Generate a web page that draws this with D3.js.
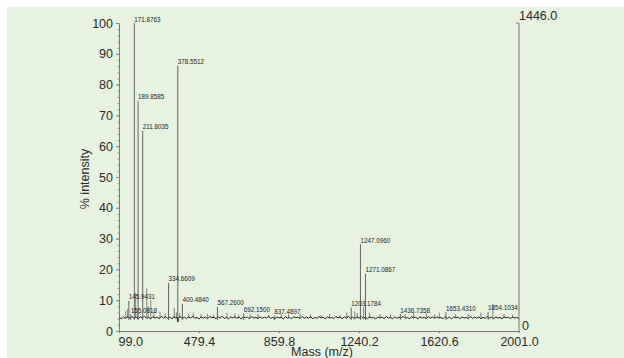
<!DOCTYPE html>
<html>
<head>
<meta charset="utf-8">
<script src="https://cdn.jsdelivr.net/npm/d3@7"></script>
<style>
	body { margin: 0; background: #fff; }
	svg { display: block; font-family: "Liberation Sans", Arial, sans-serif; }
	.tick-label { font-size: 12.5px; fill: #2a2a2a; }
	.peak-label { font-size: 6.3px; fill: #222; }
</style>
</head>
<body>
<div id="spectrum"></div>
<script>
// labelled peaks: m/z and % intensity
const peakMz = [145.9431, 155.0818, 171.8763, 189.8585, 211.8035, 334.6609, 378.5512, 400.4840,
	567.2600, 692.1500, 837.4897, 1203.1784, 1247.0960, 1271.0867, 1436.7358, 1653.4310, 1854.1034];
const peakInt = [9.8, 5.4, 100, 74.8, 65.0, 15.6, 86.2, 8.8,
	7.8, 5.8, 4.9, 7.6, 28.2, 18.6, 5.5, 6.1, 6.3];

// unlabelled small peaks: [m/z, % intensity]
const minorPeaks = [[131, 6.5], [140, 7.2], [178, 12.4], [186, 7.0], [231, 14.0], [238, 8.0], [250, 10.0],
	[265, 6.2], [294, 6.3], [318, 5.6], [362, 7.5], [372, 6.0], [388, 5.8], [430, 5.6], [452, 6.0],
	[488, 5.4], [520, 5.6], [548, 5.2], [612, 5.9], [650, 5.8], [668, 5.3], [722, 5.5], [760, 5.6],
	[812, 5.2], [870, 5.4], [905, 5.5], [960, 5.6], [1010, 5.4], [1060, 5.2], [1100, 5.6], [1150, 5.3],
	[1182, 6.0], [1220, 6.4], [1232, 5.8], [1262, 7.8], [1290, 6.0], [1340, 5.5], [1390, 5.4],
	[1460, 5.5], [1500, 5.8], [1560, 5.7], [1600, 5.4], [1622, 6.0], [1700, 5.5], [1760, 5.6],
	[1820, 6.0], [1877, 8.8], [1930, 5.5], [1970, 5.3]];

// noisy baseline: [m/z, % intensity]
const baseline = [[100, 4.4], [110, 4.0], [120, 4.5], [130, 4.1], [140, 4.6], [150, 4.2], [160, 4.7],
	[170, 4.1], [180, 4.5], [190, 4.0], [200, 4.6], [210, 4.3], [220, 4.8], [230, 4.1], [240, 4.4],
	[250, 3.9], [260, 4.7], [270, 4.2], [280, 4.5], [290, 4.0], [300, 4.8], [310, 4.2], [320, 4.6],
	[330, 4.1], [340, 4.5], [350, 4.0], [360, 4.6], [370, 4.2], [376, 4.4], [379, 2.9], [382, 4.3],
	[390, 4.7], [400, 4.1], [410, 4.5], [420, 4.0], [430, 4.6], [440, 4.2], [450, 4.8], [460, 4.1],
	[470, 4.4], [480, 3.9], [490, 4.6], [500, 4.2], [510, 4.5], [520, 4.0], [530, 4.7], [540, 4.3],
	[550, 4.5], [560, 4.0], [570, 4.6], [580, 4.2], [590, 4.8], [600, 4.1], [610, 4.4], [620, 4.0],
	[630, 4.6], [640, 4.2], [650, 4.7], [660, 4.1], [670, 4.5], [680, 3.9], [690, 4.6], [700, 4.3],
	[710, 4.5], [720, 4.0], [730, 4.7], [740, 4.2], [750, 4.4], [760, 4.0], [770, 4.6], [780, 4.1],
	[790, 4.5], [800, 4.2], [810, 4.8], [820, 4.1], [830, 4.4], [840, 4.0], [850, 4.6], [860, 4.2],
	[870, 4.5], [880, 3.9], [890, 4.7], [900, 4.2], [910, 4.4], [920, 4.0], [930, 4.6], [940, 4.3],
	[950, 4.5], [960, 4.0], [970, 4.7], [980, 4.1], [990, 4.5], [1000, 4.2], [1010, 4.6], [1020, 4.0],
	[1030, 4.4], [1040, 4.1], [1050, 4.7], [1060, 4.2], [1070, 4.5], [1080, 3.9], [1090, 4.6],
	[1100, 4.2], [1110, 4.4], [1120, 4.0], [1130, 4.7], [1140, 4.3], [1150, 4.5], [1160, 4.0],
	[1170, 4.6], [1180, 4.2], [1190, 4.8], [1200, 4.1], [1210, 4.5], [1220, 4.0], [1230, 4.6],
	[1240, 4.2], [1250, 4.7], [1260, 4.1], [1270, 4.5], [1280, 4.0], [1290, 4.6], [1300, 4.3],
	[1310, 4.4], [1320, 3.9], [1330, 4.6], [1340, 4.2], [1350, 4.5], [1360, 4.0], [1370, 4.7],
	[1380, 4.2], [1390, 4.4], [1400, 4.0], [1410, 4.6], [1420, 4.1], [1430, 4.5], [1440, 4.2],
	[1450, 4.8], [1460, 4.1], [1470, 4.4], [1480, 4.0], [1490, 4.6], [1500, 4.3], [1510, 4.5],
	[1520, 3.9], [1530, 4.6], [1540, 4.2], [1550, 4.4], [1560, 4.0], [1570, 4.7], [1580, 4.2],
	[1590, 4.5], [1600, 4.1], [1610, 4.6], [1620, 4.2], [1630, 4.4], [1640, 4.0], [1650, 4.7],
	[1660, 4.1], [1670, 4.5], [1680, 3.9], [1690, 4.6], [1700, 4.3], [1710, 4.5], [1720, 4.0],
	[1730, 4.6], [1740, 4.2], [1750, 4.4], [1760, 4.0], [1770, 4.7], [1780, 4.1], [1790, 4.5],
	[1800, 4.2], [1810, 4.6], [1820, 4.0], [1830, 4.4], [1840, 4.1], [1850, 4.7], [1860, 4.2],
	[1870, 4.5], [1880, 3.9], [1890, 4.6], [1900, 4.2], [1910, 4.4], [1920, 4.0], [1930, 4.6],
	[1940, 4.3], [1950, 4.5], [1960, 4.0], [1970, 4.6], [1980, 4.2], [1990, 4.4], [2000, 4.1]];

const baseLevel = 4.2;
const xTicks = [99.0, 479.4, 859.8, 1240.2, 1620.6, 2001.0];
const yTicks = [0, 10, 20, 30, 40, 50, 60, 70, 80, 90, 100];
const maxCounts = "1446.0";

const width = 624, height = 358;
const margin = { top: 23, right: 105, bottom: 27, left: 119 };

const svg = d3.select("#spectrum").append("svg")
	.attr("width", width)
	.attr("height", height);

// pale green panel
svg.append("rect")
	.attr("x", 7).attr("y", 7)
	.attr("width", width - 7).attr("height", height - 7)
	.style("fill", "#e7f2e1");

const x = d3.scaleLinear().domain([99, 2001]).range([margin.left, width - margin.right]);
const y = d3.scaleLinear().domain([0, 100]).range([height - margin.bottom, margin.top]);

// left axis
const yAxis = svg.append("g")
	.attr("transform", "translate(" + margin.left + ",0)")
	.call(d3.axisLeft(y).tickValues(yTicks).tickSize(3).tickPadding(3));
yAxis.select(".domain").attr("stroke", "#777");
yAxis.selectAll(".tick line").attr("stroke", "#777");
yAxis.selectAll(".tick text").attr("class", "tick-label").attr("font-size", null).attr("font-family", null);
svg.append("g")
	.attr("transform", "translate(" + margin.left + ",0)")
	.call(d3.axisLeft(y).tickValues(d3.range(0, 101, 2)).tickSize(1.5).tickFormat(""))
	.call(g => g.select(".domain").remove())
	.selectAll("line").attr("stroke", "#999");

// bottom axis
const xAxis = svg.append("g")
	.attr("transform", "translate(0," + y(0) + ")")
	.call(d3.axisBottom(x).tickValues(xTicks).tickSize(2).tickPadding(4).tickFormat(d3.format(".1f")));
xAxis.select(".domain").attr("stroke", "#777");
xAxis.selectAll(".tick line").attr("stroke", "#777");
xAxis.selectAll(".tick text").attr("class", "tick-label").attr("font-size", null).attr("font-family", null);
xAxis.selectAll(".tick text").filter(d => d === 99).attr("text-anchor", "start").attr("dx", "-1");

// right axis (absolute counts)
const rAxis = svg.append("g")
	.attr("transform", "translate(" + x(2001) + ",0)");
rAxis.append("line")
	.attr("y1", y(100)).attr("y2", y(0))
	.attr("stroke", "#777");
rAxis.append("line")
	.attr("x1", -3).attr("x2", 0)
	.attr("y1", y(100)).attr("y2", y(100))
	.attr("stroke", "#777");
rAxis.append("text")
	.attr("class", "tick-label")
	.attr("x", 0).attr("y", y(100) - 3)
	.text(maxCounts);
rAxis.append("text")
	.attr("class", "tick-label")
	.attr("x", 3).attr("y", y(0) - 1)
	.text("0");

// axis titles
svg.append("text")
	.attr("class", "tick-label")
	.attr("text-anchor", "middle")
	.attr("x", (x(99) + x(2001)) / 2 + 3)
	.attr("y", height - 2)
	.text("Mass (m/z)");
svg.append("text")
	.attr("class", "tick-label")
	.attr("text-anchor", "middle")
	.attr("transform", "translate(89," + ((y(0) + y(100)) / 2 + 2) + ") rotate(-90)")
	.text("% intensity");

// minor peaks
svg.append("g").selectAll("line")
	.data(minorPeaks)
	.enter().append("line")
	.attr("x1", d => x(d[0])).attr("x2", d => x(d[0]))
	.attr("y1", y(baseLevel)).attr("y2", d => y(d[1]))
	.attr("stroke", "#666")
	.attr("stroke-width", 0.8);

// noisy baseline
const line = d3.line()
	.x(d => x(d[0]))
	.y(d => y(d[1]));
svg.append("path")
	.datum(baseline)
	.attr("d", line)
	.attr("fill", "none")
	.attr("stroke", "#222")
	.attr("stroke-width", 1);

// labelled peaks
const peaks = peakMz.map((mz, i) => ({ mz: mz, v: peakInt[i] }));
svg.append("g").selectAll("line")
	.data(peaks)
	.enter().append("line")
	.attr("x1", d => x(d.mz)).attr("x2", d => x(d.mz))
	.attr("y1", y(baseLevel - 0.6)).attr("y2", d => y(d.v))
	.attr("stroke", "#555")
	.attr("stroke-width", 0.9);
svg.append("g").selectAll("text")
	.data(peaks)
	.enter().append("text")
	.attr("class", "peak-label")
	.attr("x", d => x(d.mz))
	.attr("y", d => y(d.v) - 1.5)
	.text(d => d.mz.toFixed(4));
</script>
</body>
</html>
